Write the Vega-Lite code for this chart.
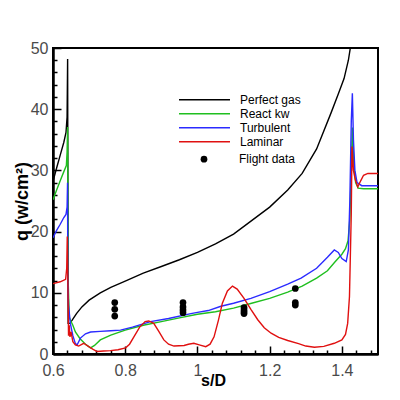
{
  "$schema": "https://vega.github.io/schema/vega-lite/v6.json",
  "description": "Heat flux q along s/D: perfect gas, reacting, turbulent and laminar predictions against flight data.",
  "autosize": {"type": "none"},
  "padding": {"left": 53, "top": 48, "right": 22, "bottom": 46},
  "width": 325,
  "height": 306,
  "background": "white",
  "data": {
    "values": [
      {"series": "Perfect gas", "s": 0.6, "q": 28.2},
      {"series": "Perfect gas", "s": 0.61, "q": 30.4},
      {"series": "Perfect gas", "s": 0.62, "q": 32.5},
      {"series": "Perfect gas", "s": 0.63, "q": 34.6},
      {"series": "Perfect gas", "s": 0.636, "q": 36.2},
      {"series": "Perfect gas", "s": 0.639, "q": 38.7},
      {"series": "Perfect gas", "s": 0.6405, "q": 48.2},
      {"series": "Perfect gas", "s": 0.642, "q": 5.0},
      {"series": "Perfect gas", "s": 0.647, "q": 5.0},
      {"series": "Perfect gas", "s": 0.654, "q": 5.6},
      {"series": "Perfect gas", "s": 0.665, "q": 6.6},
      {"series": "Perfect gas", "s": 0.68, "q": 7.7},
      {"series": "Perfect gas", "s": 0.7, "q": 8.8},
      {"series": "Perfect gas", "s": 0.731, "q": 10.0},
      {"series": "Perfect gas", "s": 0.76, "q": 10.9},
      {"series": "Perfect gas", "s": 0.8, "q": 11.9},
      {"series": "Perfect gas", "s": 0.85, "q": 13.2},
      {"series": "Perfect gas", "s": 0.9, "q": 14.3},
      {"series": "Perfect gas", "s": 0.95, "q": 15.4},
      {"series": "Perfect gas", "s": 1.0, "q": 16.6},
      {"series": "Perfect gas", "s": 1.05, "q": 18.0},
      {"series": "Perfect gas", "s": 1.1, "q": 19.6},
      {"series": "Perfect gas", "s": 1.15, "q": 21.8},
      {"series": "Perfect gas", "s": 1.2, "q": 24.0},
      {"series": "Perfect gas", "s": 1.25, "q": 26.8},
      {"series": "Perfect gas", "s": 1.29, "q": 29.5},
      {"series": "Perfect gas", "s": 1.33, "q": 33.5},
      {"series": "Perfect gas", "s": 1.37, "q": 39.4},
      {"series": "Perfect gas", "s": 1.39, "q": 42.5},
      {"series": "Perfect gas", "s": 1.406, "q": 45.0},
      {"series": "Perfect gas", "s": 1.418, "q": 48.0},
      {"series": "Perfect gas", "s": 1.426, "q": 51.0},
      {"series": "Perfect gas", "s": 1.432, "q": 56.0},

      {"series": "React kw", "s": 0.6, "q": 25.2},
      {"series": "React kw", "s": 0.61, "q": 26.8},
      {"series": "React kw", "s": 0.62, "q": 28.3},
      {"series": "React kw", "s": 0.63, "q": 29.8},
      {"series": "React kw", "s": 0.637, "q": 30.8},
      {"series": "React kw", "s": 0.639, "q": 33.0},
      {"series": "React kw", "s": 0.6405, "q": 37.1},
      {"series": "React kw", "s": 0.642, "q": 12.0},
      {"series": "React kw", "s": 0.645, "q": 6.0},
      {"series": "React kw", "s": 0.65, "q": 5.3},
      {"series": "React kw", "s": 0.655, "q": 4.7},
      {"series": "React kw", "s": 0.662, "q": 3.6},
      {"series": "React kw", "s": 0.675, "q": 2.5},
      {"series": "React kw", "s": 0.69, "q": 1.6},
      {"series": "React kw", "s": 0.704, "q": 1.0},
      {"series": "React kw", "s": 0.715, "q": 1.4},
      {"series": "React kw", "s": 0.731, "q": 2.3},
      {"series": "React kw", "s": 0.76, "q": 3.1},
      {"series": "React kw", "s": 0.8, "q": 3.9},
      {"series": "React kw", "s": 0.85, "q": 4.7},
      {"series": "React kw", "s": 0.9, "q": 5.3},
      {"series": "React kw", "s": 0.95, "q": 5.9},
      {"series": "React kw", "s": 1.0, "q": 6.5},
      {"series": "React kw", "s": 1.05, "q": 6.9},
      {"series": "React kw", "s": 1.1, "q": 7.5},
      {"series": "React kw", "s": 1.15, "q": 8.3},
      {"series": "React kw", "s": 1.2, "q": 9.1},
      {"series": "React kw", "s": 1.25, "q": 10.1},
      {"series": "React kw", "s": 1.29, "q": 11.1},
      {"series": "React kw", "s": 1.33, "q": 12.4},
      {"series": "React kw", "s": 1.36, "q": 13.6},
      {"series": "React kw", "s": 1.38, "q": 15.0},
      {"series": "React kw", "s": 1.4, "q": 16.3},
      {"series": "React kw", "s": 1.41, "q": 17.2},
      {"series": "React kw", "s": 1.417, "q": 18.5},
      {"series": "React kw", "s": 1.422, "q": 22.0},
      {"series": "React kw", "s": 1.426, "q": 30.0},
      {"series": "React kw", "s": 1.429, "q": 37.0},
      {"series": "React kw", "s": 1.433, "q": 31.0},
      {"series": "React kw", "s": 1.438, "q": 28.0},
      {"series": "React kw", "s": 1.445, "q": 27.1},
      {"series": "React kw", "s": 1.46, "q": 27.0},
      {"series": "React kw", "s": 1.5, "q": 27.0},

      {"series": "Turbulent", "s": 0.6, "q": 19.0},
      {"series": "Turbulent", "s": 0.61, "q": 20.2},
      {"series": "Turbulent", "s": 0.62, "q": 21.2},
      {"series": "Turbulent", "s": 0.63, "q": 22.3},
      {"series": "Turbulent", "s": 0.636, "q": 22.8},
      {"series": "Turbulent", "s": 0.639, "q": 24.0},
      {"series": "Turbulent", "s": 0.6403, "q": 28.0},
      {"series": "Turbulent", "s": 0.641, "q": 12.0},
      {"series": "Turbulent", "s": 0.643, "q": 8.0},
      {"series": "Turbulent", "s": 0.648, "q": 5.0},
      {"series": "Turbulent", "s": 0.655, "q": 3.0},
      {"series": "Turbulent", "s": 0.662, "q": 1.7},
      {"series": "Turbulent", "s": 0.667, "q": 1.5},
      {"series": "Turbulent", "s": 0.676, "q": 2.6},
      {"series": "Turbulent", "s": 0.69, "q": 3.3},
      {"series": "Turbulent", "s": 0.704, "q": 3.6},
      {"series": "Turbulent", "s": 0.731, "q": 3.7},
      {"series": "Turbulent", "s": 0.76, "q": 3.8},
      {"series": "Turbulent", "s": 0.787, "q": 3.9},
      {"series": "Turbulent", "s": 0.82, "q": 4.4},
      {"series": "Turbulent", "s": 0.87, "q": 5.3},
      {"series": "Turbulent", "s": 0.92, "q": 5.8},
      {"series": "Turbulent", "s": 0.982, "q": 6.6},
      {"series": "Turbulent", "s": 1.0, "q": 6.8},
      {"series": "Turbulent", "s": 1.03, "q": 7.1},
      {"series": "Turbulent", "s": 1.065, "q": 7.8},
      {"series": "Turbulent", "s": 1.1, "q": 8.3},
      {"series": "Turbulent", "s": 1.148, "q": 9.1},
      {"series": "Turbulent", "s": 1.2, "q": 10.2},
      {"series": "Turbulent", "s": 1.25, "q": 11.4},
      {"series": "Turbulent", "s": 1.287, "q": 12.4},
      {"series": "Turbulent", "s": 1.33, "q": 14.0},
      {"series": "Turbulent", "s": 1.36, "q": 15.8},
      {"series": "Turbulent", "s": 1.379, "q": 17.0},
      {"series": "Turbulent", "s": 1.39, "q": 16.6},
      {"series": "Turbulent", "s": 1.4, "q": 15.6},
      {"series": "Turbulent", "s": 1.412, "q": 15.1},
      {"series": "Turbulent", "s": 1.418, "q": 17.0},
      {"series": "Turbulent", "s": 1.422, "q": 25.0},
      {"series": "Turbulent", "s": 1.426, "q": 38.0},
      {"series": "Turbulent", "s": 1.429, "q": 42.6},
      {"series": "Turbulent", "s": 1.432, "q": 35.0},
      {"series": "Turbulent", "s": 1.436, "q": 30.0},
      {"series": "Turbulent", "s": 1.442, "q": 28.0},
      {"series": "Turbulent", "s": 1.455, "q": 27.5},
      {"series": "Turbulent", "s": 1.5, "q": 27.5},

      {"series": "Laminar", "s": 0.6, "q": 11.5},
      {"series": "Laminar", "s": 0.62, "q": 11.8},
      {"series": "Laminar", "s": 0.635, "q": 12.2},
      {"series": "Laminar", "s": 0.638, "q": 14.0},
      {"series": "Laminar", "s": 0.6395, "q": 19.2},
      {"series": "Laminar", "s": 0.6405, "q": 15.0},
      {"series": "Laminar", "s": 0.642, "q": 8.0},
      {"series": "Laminar", "s": 0.643, "q": 3.0},
      {"series": "Laminar", "s": 0.645, "q": 4.7},
      {"series": "Laminar", "s": 0.647, "q": 2.8},
      {"series": "Laminar", "s": 0.65, "q": 3.6},
      {"series": "Laminar", "s": 0.655, "q": 2.0},
      {"series": "Laminar", "s": 0.662, "q": 1.5},
      {"series": "Laminar", "s": 0.671, "q": 1.3},
      {"series": "Laminar", "s": 0.685, "q": 1.75},
      {"series": "Laminar", "s": 0.699, "q": 1.2},
      {"series": "Laminar", "s": 0.71, "q": 0.8},
      {"series": "Laminar", "s": 0.722, "q": 0.4},
      {"series": "Laminar", "s": 0.74, "q": 0.5},
      {"series": "Laminar", "s": 0.759, "q": 0.55},
      {"series": "Laminar", "s": 0.78, "q": 0.7},
      {"series": "Laminar", "s": 0.801, "q": 1.0},
      {"series": "Laminar", "s": 0.812, "q": 1.6},
      {"series": "Laminar", "s": 0.824, "q": 2.8},
      {"series": "Laminar", "s": 0.84, "q": 4.4},
      {"series": "Laminar", "s": 0.855, "q": 5.3},
      {"series": "Laminar", "s": 0.865, "q": 5.4},
      {"series": "Laminar", "s": 0.879, "q": 5.0},
      {"series": "Laminar", "s": 0.893, "q": 3.7},
      {"series": "Laminar", "s": 0.907, "q": 2.3},
      {"series": "Laminar", "s": 0.92, "q": 1.6},
      {"series": "Laminar", "s": 0.935, "q": 1.3},
      {"series": "Laminar", "s": 0.963, "q": 1.4},
      {"series": "Laminar", "s": 0.975, "q": 1.6},
      {"series": "Laminar", "s": 0.99, "q": 1.75},
      {"series": "Laminar", "s": 1.005, "q": 1.5},
      {"series": "Laminar", "s": 1.023, "q": 1.2},
      {"series": "Laminar", "s": 1.035, "q": 1.6},
      {"series": "Laminar", "s": 1.046, "q": 2.8},
      {"series": "Laminar", "s": 1.058, "q": 5.5},
      {"series": "Laminar", "s": 1.069, "q": 8.3},
      {"series": "Laminar", "s": 1.083, "q": 10.3},
      {"series": "Laminar", "s": 1.097, "q": 11.1},
      {"series": "Laminar", "s": 1.11, "q": 10.6},
      {"series": "Laminar", "s": 1.129, "q": 9.1},
      {"series": "Laminar", "s": 1.148, "q": 7.3},
      {"series": "Laminar", "s": 1.167, "q": 5.6},
      {"series": "Laminar", "s": 1.185, "q": 4.3},
      {"series": "Laminar", "s": 1.204, "q": 3.4},
      {"series": "Laminar", "s": 1.225, "q": 2.7},
      {"series": "Laminar", "s": 1.25, "q": 2.2},
      {"series": "Laminar", "s": 1.28, "q": 1.7},
      {"series": "Laminar", "s": 1.3, "q": 1.3},
      {"series": "Laminar", "s": 1.324, "q": 1.1},
      {"series": "Laminar", "s": 1.35, "q": 1.25},
      {"series": "Laminar", "s": 1.379, "q": 1.75},
      {"series": "Laminar", "s": 1.4, "q": 2.3},
      {"series": "Laminar", "s": 1.41, "q": 3.2},
      {"series": "Laminar", "s": 1.416, "q": 5.0},
      {"series": "Laminar", "s": 1.421, "q": 9.4},
      {"series": "Laminar", "s": 1.426, "q": 23.0},
      {"series": "Laminar", "s": 1.428, "q": 33.9},
      {"series": "Laminar", "s": 1.432, "q": 30.0},
      {"series": "Laminar", "s": 1.437, "q": 28.5},
      {"series": "Laminar", "s": 1.444, "q": 27.3},
      {"series": "Laminar", "s": 1.452, "q": 28.3},
      {"series": "Laminar", "s": 1.46, "q": 29.2},
      {"series": "Laminar", "s": 1.472, "q": 29.5},
      {"series": "Laminar", "s": 1.5, "q": 29.5},

      {"series": "Flight data", "s": 0.771, "q": 8.4},
      {"series": "Flight data", "s": 0.771, "q": 7.3},
      {"series": "Flight data", "s": 0.771, "q": 6.2},
      {"series": "Flight data", "s": 0.96, "q": 8.4},
      {"series": "Flight data", "s": 0.96, "q": 7.7},
      {"series": "Flight data", "s": 0.96, "q": 7.2},
      {"series": "Flight data", "s": 0.96, "q": 6.75},
      {"series": "Flight data", "s": 1.129, "q": 7.6},
      {"series": "Flight data", "s": 1.129, "q": 7.2},
      {"series": "Flight data", "s": 1.129, "q": 6.9},
      {"series": "Flight data", "s": 1.129, "q": 6.6},
      {"series": "Flight data", "s": 1.271, "q": 10.7},
      {"series": "Flight data", "s": 1.271, "q": 8.4},
      {"series": "Flight data", "s": 1.271, "q": 8.0}
    ]
  },
  "layer": [
    {
      "transform": [{"filter": "datum.series !== 'Flight data'"}],
      "mark": {"type": "line", "strokeWidth": 1.4, "clip": true},
      "encoding": {
        "x": {
          "field": "s",
          "type": "quantitative",
          "scale": {"domain": [0.6, 1.5], "nice": false, "zero": false},
          "axis": {
            "orient": "bottom",
            "values": [0.6, 0.8, 1, 1.2, 1.4],
            "format": "~g",
            "tickSize": -8,
            "labelPadding": 16,
            "title": "s/D",
            "titleX": 160,
            "titleY": 31,
            "titleAlign": "center",
            "titleBaseline": "alphabetic",
            "titleFontSize": 16
          }
        },
        "y": {
          "field": "q",
          "type": "quantitative",
          "scale": {"domain": [0, 50], "nice": false},
          "axis": {
            "orient": "left",
            "values": [0, 10, 20, 30, 40, 50],
            "tickSize": -8,
            "labelPadding": 13,
            "labelBaseline": "middle",
            "title": "q (w/cm²)",
            "titleX": -31,
            "titleY": 153,
            "titleAngle": -90,
            "titleAlign": "center",
            "titleBaseline": "middle",
            "titleFontSize": 18
          }
        },
        "color": {
          "field": "series",
          "type": "nominal",
          "scale": {
            "domain": ["Perfect gas", "React kw", "Turbulent", "Laminar"],
            "range": ["#000000", "#1fbf1f", "#2b2bff", "#e01010"]
          },
          "legend": {
            "title": null,
            "orient": "none",
            "legendX": 125,
            "legendY": 45,
            "padding": 0,
            "symbolType": "stroke",
            "symbolSize": 2600,
            "symbolStrokeWidth": 1.5,
            "clipHeight": 13.3,
            "rowPadding": 0,
            "labelOffset": 9,
            "labelFontSize": 12,
            "labelColor": "#000000"
          }
        }
      }
    },
    {
      "transform": [{"filter": "datum.series === 'Flight data'"}],
      "mark": {"type": "point", "filled": true, "size": 45, "opacity": 1, "color": "#000000"},
      "encoding": {
        "x": {
          "field": "s",
          "type": "quantitative",
          "axis": {
            "orient": "bottom",
            "values": [0.64, 0.68, 0.72, 0.76, 0.84, 0.88, 0.92, 0.96, 1.04, 1.08, 1.12, 1.16, 1.24, 1.28, 1.32, 1.36, 1.44, 1.48],
            "labels": false,
            "tickSize": -4,
            "title": null
          }
        },
        "y": {
          "field": "q",
          "type": "quantitative",
          "axis": {
            "orient": "left",
            "values": [2, 4, 6, 8, 12, 14, 16, 18, 22, 24, 26, 28, 32, 34, 36, 38, 42, 44, 46, 48],
            "labels": false,
            "tickSize": -4,
            "title": null
          }
        },
        "shape": {
          "field": "series",
          "type": "nominal",
          "scale": {"domain": ["Flight data"], "range": ["circle"]},
          "legend": {
            "title": null,
            "orient": "none",
            "legendX": 145,
            "legendY": 104,
            "padding": 0,
            "symbolSize": 45,
            "symbolFillColor": "#000000",
            "symbolStrokeWidth": 0,
            "clipHeight": 14.3,
            "labelOffset": 29,
            "labelFontSize": 12,
            "labelColor": "#000000"
          }
        }
      }
    }
  ],
  "resolve": {"axis": {"x": "independent", "y": "independent"}},
  "config": {
    "font": "Liberation Sans, Arial, Helvetica, sans-serif",
    "view": {"stroke": "#000000", "strokeWidth": 2},
    "axis": {
      "grid": false,
      "domainColor": "#000000",
      "domainWidth": 2,
      "tickColor": "#000000",
      "tickWidth": 1.5,
      "labelFontSize": 16,
      "labelColor": "#4a4a4a",
      "labelFlush": false,
      "labelOverlap": false,
      "titleColor": "#000000",
      "titleFontWeight": "bold"
    }
  }
}
